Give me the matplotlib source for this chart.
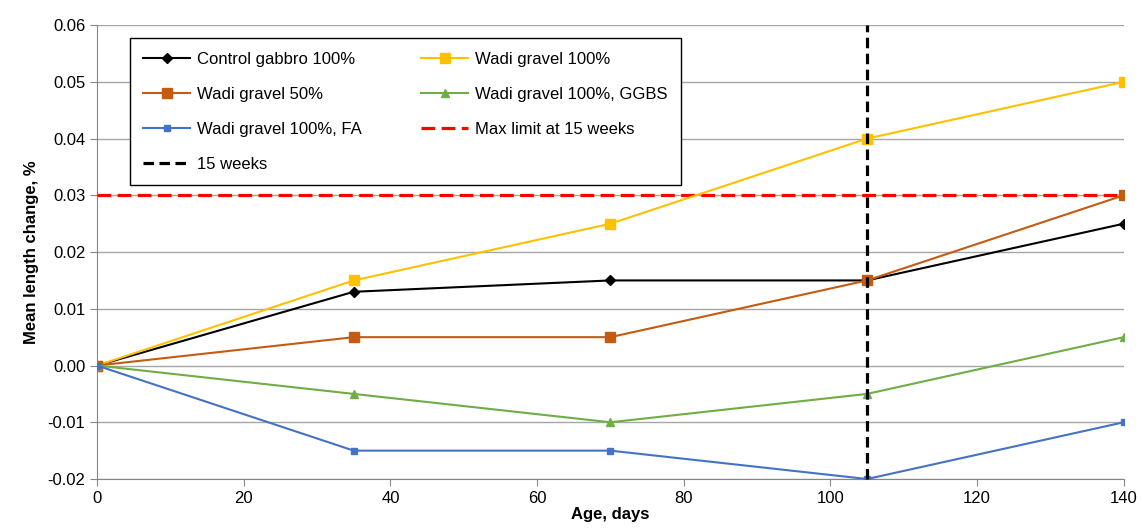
import matplotlib
matplotlib.use("Agg")
import matplotlib.pyplot as plt

plt.rcParams['font.family'] = ['Liberation Sans', 'DejaVu Sans']

# age in days
age = [0, 35, 70, 105, 140]

# mean length change, %
control_gabbro = [0.0, 0.013, 0.015, 0.015, 0.025]
wadi_100 = [0.0, 0.015, 0.025, 0.040, 0.050]
wadi_50 = [0.0, 0.005, 0.005, 0.015, 0.030]
wadi_ggbs = [0.0, -0.005, -0.010, -0.005, 0.005]
wadi_fa = [0.0, -0.015, -0.015, -0.020, -0.010]

limit_x = [0, 140]
limit_y = [0.03, 0.03]
weeks_x = [105, 105]
weeks_y = [-0.02, 0.06]

fig = plt.figure(figsize=(11.42, 5.29), dpi=100)
ax = fig.add_axes([0.085, 0.0945, 0.899, 0.858])

h1, = ax.plot(age, control_gabbro, color='black', marker='D', markersize=5, lw=1.5, label='Control gabbro 100%', zorder=4)
h2, = ax.plot(age, wadi_100, color='#FFC000', marker='s', markersize=7, lw=1.5, label='Wadi gravel 100%', zorder=4)
h3, = ax.plot(age, wadi_50, color='#C55A11', marker='s', markersize=7, lw=1.5, label='Wadi gravel 50%', zorder=4)
h4, = ax.plot(age, wadi_ggbs, color='#70AD47', marker='^', markersize=6, lw=1.5, label='Wadi gravel 100%, GGBS', zorder=4)
h5, = ax.plot(age, wadi_fa, color='#4472C4', marker='s', markersize=5, lw=1.5, label='Wadi gravel 100%, FA', zorder=4)
h6, = ax.plot(limit_x, limit_y, color='red', ls=(0, (4.3, 2)), lw=2.3, label='Max limit at 15 weeks', zorder=3)
h7, = ax.plot(weeks_x, weeks_y, color='black', ls=(0, (3.3, 1.7)), lw=2.3, label='15 weeks', zorder=5, clip_on=False)

ax.set_xlim(0, 140)
ax.set_ylim(-0.02, 0.06)
ax.set_xticks(range(0, 141, 20))
ax.set_yticks([-0.02, -0.01, 0.0, 0.01, 0.02, 0.03, 0.04, 0.05, 0.06])
ax.set_yticklabels(['-0.02', '-0.01', '0.00', '0.01', '0.02', '0.03', '0.04', '0.05', '0.06'])
ax.tick_params(labelsize=12, color='#868686', length=5, direction='out')
ax.yaxis.grid(True, color='#A6A6A6', lw=1)
ax.set_axisbelow(True)
for s in ['top', 'right']:
    ax.spines[s].set_visible(False)
for s in ['left', 'bottom']:
    ax.spines[s].set_color('#868686')

ax.set_xlabel('Age, days', fontsize=12, fontweight='bold', labelpad=1)
ax.set_ylabel('Mean length change, %', fontsize=12, fontweight='bold', labelpad=6)

# row-wise legend order like the original
handles = [h1, h3, h5, h7, h2, h4, h6]
leg = ax.legend(handles=handles, ncol=2, loc='upper left', bbox_to_anchor=(0.032, 0.971), fontsize=12,
                frameon=True, fancybox=False, edgecolor='black', framealpha=1, borderaxespad=0,
                handlelength=2.8, handletextpad=0.4, columnspacing=3.6, labelspacing=1.2, borderpad=0.8)
leg.get_frame().set_linewidth(1)

fig.savefig('out.png', dpi=100)
